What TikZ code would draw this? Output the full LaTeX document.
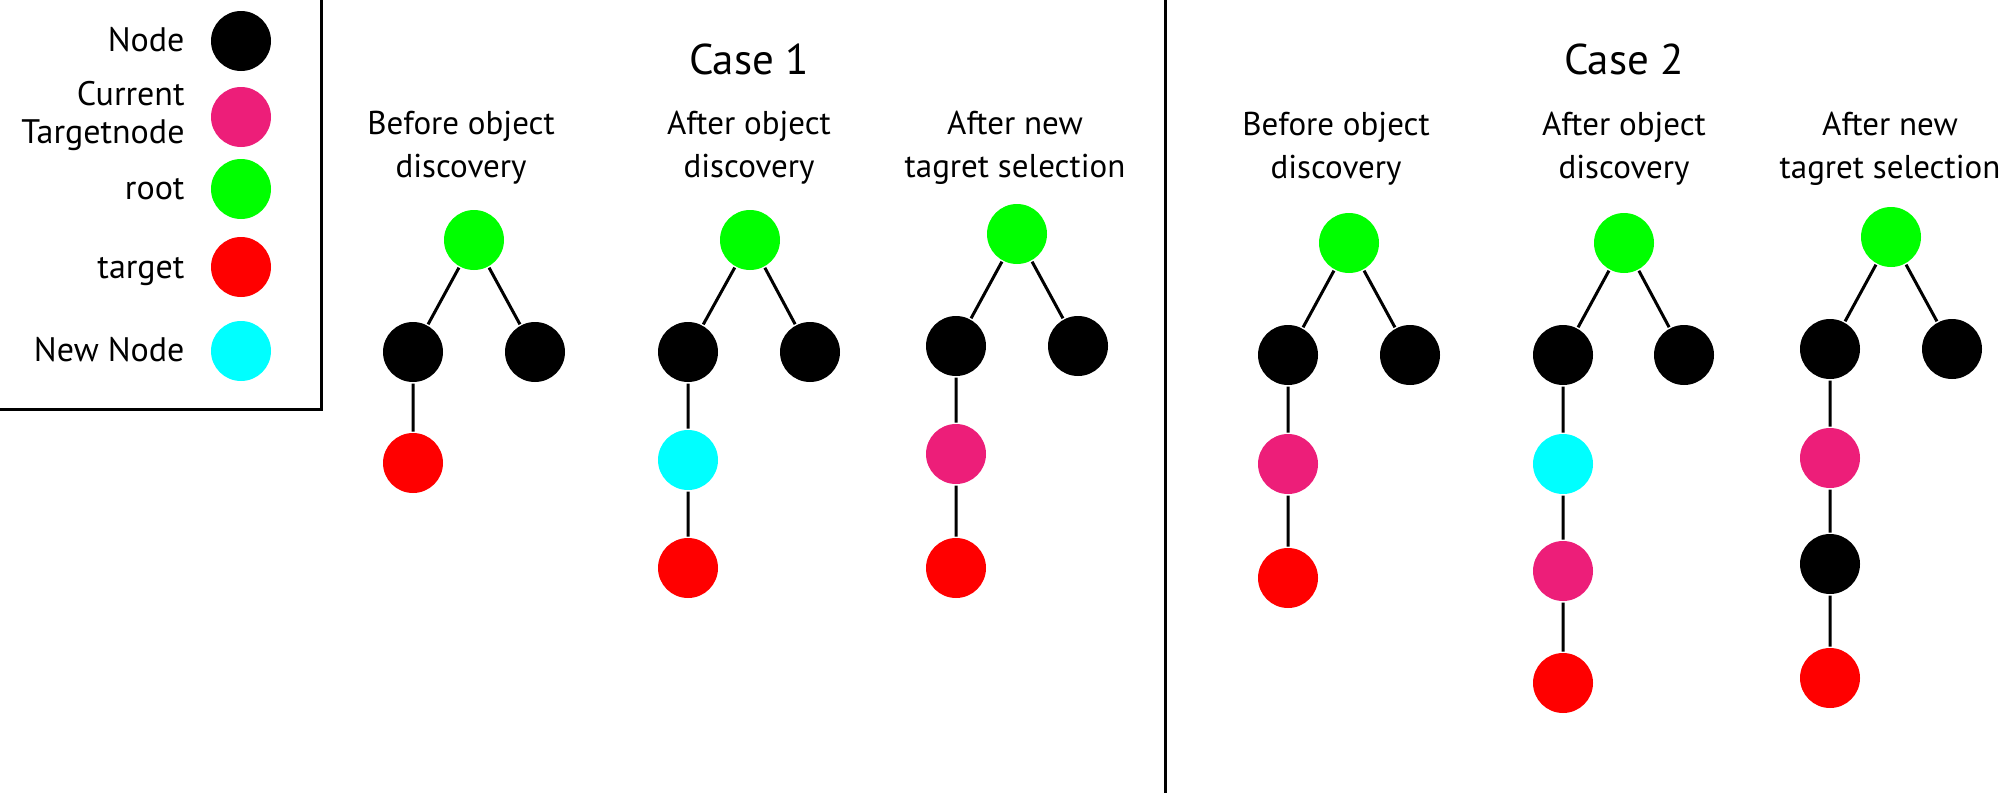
\documentclass[tikz,border=0pt]{standalone}
\usepackage{fontspec}
\setmainfont{PT Sans}
\usepackage{xcolor}
\definecolor{rootgreen}{HTML}{00FF00}
\definecolor{targetred}{HTML}{FF0000}
\definecolor{newcyan}{HTML}{00FFFF}
\definecolor{currentpink}{HTML}{ED1E79}
\tikzset{
  tnode/.style={circle, minimum size=60pt, inner sep=0pt, fill=black},
  rootnode/.style={tnode, fill=rootgreen},
  targetnode/.style={tnode, fill=targetred},
  newnode/.style={tnode, fill=newcyan},
  curnode/.style={tnode, fill=currentpink},
  casetitle/.style={anchor=base, font=\fontsize{43}{50}\selectfont},
  stagelabel/.style={anchor=base, align=center, font=\fontsize{33}{43}\selectfont},
  legendlabel/.style={anchor=base east, inner sep=0pt, font=\fontsize{34}{40}\selectfont}
}

\begin{document}
\begin{tikzpicture}[x=1pt, y=-1pt, line width=3pt]
  \useasboundingbox (0,0) rectangle (2000,793);
  \clip (0,0) rectangle (2000,793);

  % legend
  \draw (-10,-10) rectangle (321,409);
  \node[tnode] (lgnode) at (241,41) {};
  \node[curnode] (lgcur) at (241,117) {};
  \node[rootnode] (lgroot) at (241,189) {};
  \node[targetnode] (lgtarget) at (241,267) {};
  \node[newnode] (lgnew) at (241,351) {};
  \node[legendlabel] (lbnode) at (186,51) {Node};
  \node[legendlabel] (lbcur1) at (186,105) {Current};
  \node[legendlabel] (lbcur2) at (186,143) {Targetnode};
  \node[legendlabel] (lbroot) at (186,199) {root};
  \node[legendlabel] (lbtarget) at (186,278) {target};
  \node[legendlabel] (lbnew) at (186,361) {New Node};

  % divider
  \draw (1165,0) -- (1165,793);

  % case 1
  \node[casetitle] (caseone) at (749,74) {Case 1};
  \node[stagelabel] (oa) at (461,177) {Before object\\discovery};
  \node[stagelabel] (ob) at (749,177) {After object\\discovery};
  \node[stagelabel] (oc) at (1015,177) {After new\\tagret selection};

  \node[rootnode] (oar) at (474,240) {};
  \node[tnode] (oal) at (413,352) {};
  \node[tnode] (oarr) at (535,352) {};
  \node[targetnode] (oat) at (413,463) {};
  \draw (oar) -- (oal) (oar) -- (oarr) (oal) -- (oat);

  \node[rootnode] (obr) at (750,240) {};
  \node[tnode] (obl) at (688,352) {};
  \node[tnode] (obrr) at (810,352) {};
  \node[newnode] (obn) at (688,460) {};
  \node[targetnode] (obt) at (688,568) {};
  \draw (obr) -- (obl) (obr) -- (obrr) (obl) -- (obn) -- (obt);

  \node[rootnode] (ocr) at (1017,234) {};
  \node[tnode] (ocl) at (956,346) {};
  \node[tnode] (ocrr) at (1078,346) {};
  \node[curnode] (occ) at (956,454) {};
  \node[targetnode] (oct) at (956,568) {};
  \draw (ocr) -- (ocl) (ocr) -- (ocrr) (ocl) -- (occ) -- (oct);

  % case 2
  \node[casetitle] (casetwo) at (1624,74) {Case 2};
  \node[stagelabel] (ta) at (1336,178) {Before object\\discovery};
  \node[stagelabel] (tb) at (1624,178) {After object\\discovery};
  \node[stagelabel] (tc) at (1890,178) {After new\\tagret selection};

  \node[rootnode] (tar) at (1349,243) {};
  \node[tnode] (tal) at (1288,355) {};
  \node[tnode] (tarr) at (1410,355) {};
  \node[curnode] (tac) at (1288,464) {};
  \node[targetnode] (tat) at (1288,578) {};
  \draw (tar) -- (tal) (tar) -- (tarr) (tal) -- (tac) -- (tat);

  \node[rootnode] (tbr) at (1624,243) {};
  \node[tnode] (tbl) at (1563,355) {};
  \node[tnode] (tbrr) at (1684,355) {};
  \node[newnode] (tbn) at (1563,464) {};
  \node[curnode] (tbc) at (1563,571) {};
  \node[targetnode] (tbt) at (1563,683) {};
  \draw (tbr) -- (tbl) (tbr) -- (tbrr) (tbl) -- (tbn) -- (tbc) -- (tbt);

  \node[rootnode] (tcr) at (1891,237) {};
  \node[tnode] (tcl) at (1830,349) {};
  \node[tnode] (tcrr) at (1952,349) {};
  \node[curnode] (tcc) at (1830,458) {};
  \node[tnode] (tcm) at (1830,564) {};
  \node[targetnode] (tct) at (1830,678) {};
  \draw (tcr) -- (tcl) (tcr) -- (tcrr) (tcl) -- (tcc) -- (tcm) -- (tct);
\end{tikzpicture}
\end{document}
